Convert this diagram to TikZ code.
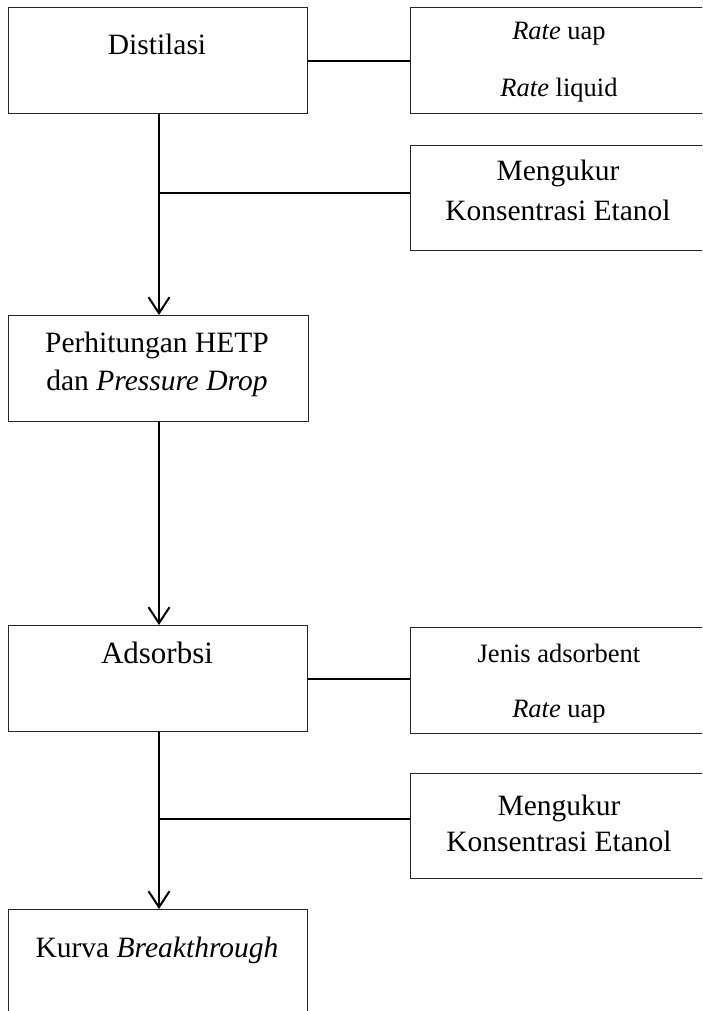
\documentclass[tikz,border=0pt]{standalone}
\usepackage{fontspec}
\setmainfont{Liberation Serif}
\usetikzlibrary{arrows.meta}
\begin{document}
\begin{tikzpicture}[x=1pt,y=-1pt,
  box/.style={draw=black!85, line width=1.2pt, inner sep=0pt, anchor=north west, minimum width=299pt},
  conn/.style={line width=2.1pt},
  arr/.style={conn, -{Straight Barb[length=16pt,width=21pt,line width=2pt]}},
  txt/.style={anchor=base, inner sep=0pt, font=\fontsize{29.5}{34}\selectfont},
  small/.style={anchor=base, inner sep=0pt, font=\fontsize{26.5}{30}\selectfont}]
\useasboundingbox[fill=white] (0,0) rectangle (702,1011);
\clip (0,0) rectangle (702,1011);
% boxes
\node[box, minimum height=106pt] (dist) at (8,7) {};
\node[box, minimum width=298pt, minimum height=106pt] (rate1) at (410,7) {};
\node[box, minimum width=298pt, minimum height=105pt] (meng1) at (410,145) {};
\node[box, minimum width=300pt, minimum height=106pt] (perh) at (8,315) {};
\node[box, minimum height=106pt] (ads) at (8,625) {};
\node[box, minimum width=298pt, minimum height=106pt] (jenis) at (410,627) {};
\node[box, minimum width=298pt, minimum height=105pt] (meng2) at (410,773) {};
\node[box, minimum height=130pt] (kurva) at (8,909) {};
% spine positions
\coordinate (spx) at (159,0);
\coordinate (b1) at (159,193);
\coordinate (b2) at (159,819);
% connectors
\draw[conn] (dist.east) -- (rate1.west);
\draw[arr] (dist.south -| spx) -- (perh.north -| spx);
\draw[conn] (b1) -- (b1 -| meng1.west);
\draw[arr] (perh.south -| spx) -- (ads.north -| spx);
\draw[conn] (ads.east) -- (ads.east -| jenis.west);
\draw[arr] (ads.south -| spx) -- (kurva.north -| spx);
\draw[conn] (b2) -- (b2 -| meng2.west);
% texts
\node[txt] (tDist) at (157,55) {Distilasi};
\node[small] (tR1) at (559,40) {\textit{Rate} uap};
\node[small] (tR2) at (559,97) {\textit{Rate} liquid};
\node[txt] (tM1a) at (558,181) {Mengukur};
\node[txt] (tM1b) at (558,220) {Konsentrasi Etanol};
\node[txt] (tP1) at (157,352) {Perhitungan HETP};
\node[txt] (tP2) at (157,390) {dan \textit{Pressure Drop}};
\node[txt, font=\fontsize{31}{36}\selectfont] (tA) at (157,663) {Adsorbsi};
\node[small] (tJ1) at (559,662) {Jenis adsorbent};
\node[small] (tJ2) at (559,717) {\textit{Rate} uap};
\node[txt] (tM2a) at (559,815) {Mengukur};
\node[txt] (tM2b) at (559,851) {Konsentrasi Etanol};
\node[txt] (tK) at (157,957) {Kurva \textit{Breakthrough}};
\end{tikzpicture}
\end{document}
